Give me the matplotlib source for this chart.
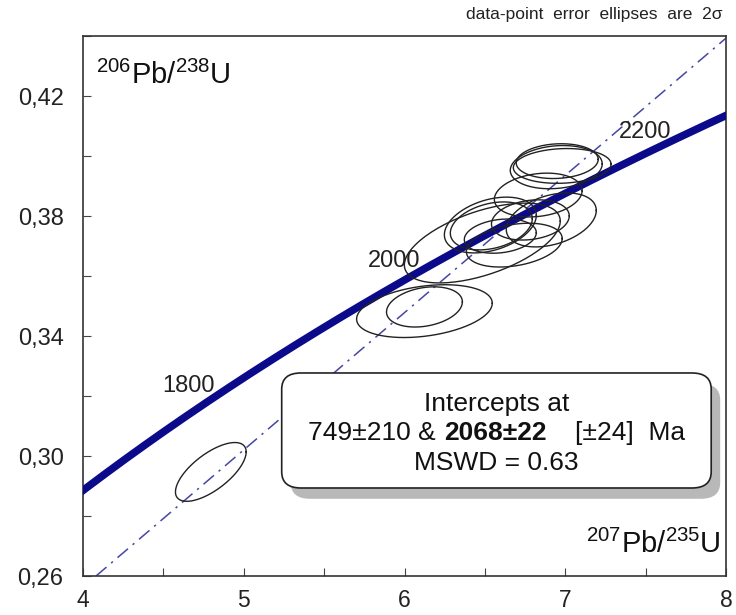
#!/usr/bin/env python3
"""
U-Pb concordia diagram (207Pb/235U vs 206Pb/238U) with 2-sigma error ellipses
"""

import numpy as np
import matplotlib.pyplot as plt
from matplotlib.patches import FancyBboxPatch
from matplotlib.ticker import MultipleLocator
from matplotlib.offsetbox import TextArea, HPacker, VPacker, AnchoredOffsetbox

plt.rcParams['font.family'] = ['Liberation Sans', 'DejaVu Sans']
plt.rcParams['mathtext.fontset'] = 'custom'
plt.rcParams['mathtext.rm'] = 'Liberation Sans'

# decay constants (1/yr)
LAMBDA_238 = 1.55125e-10
LAMBDA_235 = 9.8485e-10

# spot analyses: ratio, 2s error, rho
pb207_u235 = [4.795, 6.124, 6.124, 6.484, 6.534, 6.540, 6.596, 6.783, 6.913, 6.683, 6.832, 6.944, 6.981, 6.950]
pb207_u235_err = [0.220, 0.422, 0.236, 0.485, 0.286, 0.255, 0.224, 0.242, 0.280, 0.298, 0.273, 0.286, 0.304, 0.255]
pb206_u238 = [0.2947, 0.3483, 0.3497, 0.3710, 0.3770, 0.3767, 0.3733, 0.3787, 0.3787, 0.3703, 0.3870, 0.3963, 0.3967, 0.3983]
pb206_u238_err = [0.0098, 0.0088, 0.0067, 0.0133, 0.0093, 0.0080, 0.0057, 0.0067, 0.0090, 0.0073, 0.0073, 0.0072, 0.0058, 0.0058]
rho = [0.68, 0.30, 0.25, 0.55, 0.35, 0.30, 0.20, 0.20, 0.35, 0.30, 0.20, 0.15, 0.10, 0.10]

# concordia age labels (Ma) and fit result
concordia_ages = [1800, 2000, 2200]
lower_intercept = 749
upper_intercept = 2068

x_ticks = [4, 5, 6, 7, 8]
y_ticks = [0.26, 0.30, 0.34, 0.38, 0.42]


def concordia(age_ma):
    t = np.asarray(age_ma, dtype=float) * 1e6
    return np.exp(LAMBDA_235 * t) - 1, np.exp(LAMBDA_238 * t) - 1


fig = plt.figure(figsize=(7.36, 6.15), dpi=100)
ax = fig.add_axes([0.1128, 0.0634, 0.8736, 0.878])

# concordia curve
cx, cy = concordia(np.linspace(1500, 2400, 500))
ax.plot(cx, cy, color='#0a0a8a', lw=5.5, solid_capstyle='butt', zorder=3)

# discordia through the two intercepts
p_lo = concordia(lower_intercept)
p_hi = concordia(upper_intercept)
ax.axline((float(p_lo[0]), float(p_lo[1])), (float(p_hi[0]), float(p_hi[1])),
          color='#4646a4', lw=1.1, linestyle=(0, (9, 4, 1.5, 4)), zorder=2)

# error ellipses
theta = np.linspace(0, 2 * np.pi, 200)
for x0, sx, y0, sy, r in zip(pb207_u235, pb207_u235_err, pb206_u238, pb206_u238_err, rho):
    ex = x0 + sx * np.cos(theta)
    ey = y0 + sy * (r * np.cos(theta) + np.sqrt(1 - r ** 2) * np.sin(theta))
    ax.plot(ex, ey, color='#222222', lw=1.0, zorder=4)

# age labels on the concordia
for age in concordia_ages:
    px, py = concordia(age)
    ax.annotate(str(age), xy=(float(px), float(py)), xytext=(-8, 3), textcoords='offset points',
                ha='right', va='center', fontsize=17, color='#222222', zorder=5)

ax.set_xlim(4, 8)
ax.set_ylim(0.26, 0.44)
ax.set_xticks(x_ticks, labels=[str(v) for v in x_ticks])
ax.set_yticks(y_ticks, labels=[f"{v:.2f}".replace('.', ',') for v in y_ticks])
ax.xaxis.set_minor_locator(MultipleLocator(0.5))
ax.yaxis.set_minor_locator(MultipleLocator(0.02))
ax.tick_params(which='both', direction='in', length=6, width=0.8, color='#444444')
ax.tick_params(which='major', labelcolor='#222222')
ax.tick_params(axis='y', which='major', pad=14, labelsize=17)
ax.tick_params(axis='x', which='major', pad=9, labelsize=16.5)
for sp in ax.spines.values():
    sp.set_color('#333333')
    sp.set_linewidth(1.2)

# axis labels inside the frame
ax.text(0.02, 0.928, r'$\mathrm{^{206}Pb/^{238}U}$', transform=ax.transAxes,
        ha='left', va='center', fontsize=21, color='#111111')
ax.text(0.992, 0.043, r'$\mathrm{^{207}Pb/^{235}U}$', transform=ax.transAxes,
        ha='right', va='baseline', fontsize=21, color='#111111')

fig.text(0.981, 0.977, 'data-point  error  ellipses  are  2σ', ha='right', va='center',
         fontsize=12.5, color='#222222')

# result box with shadow
bx, by, bw, bh = 0.309, 0.163, 0.668, 0.213
shadow = FancyBboxPatch((bx + 0.014, by - 0.02), bw, bh, boxstyle='round,pad=0,rounding_size=0.03',
                        transform=ax.transAxes, fc='#b8b8b8', ec='none', zorder=6)
box = FancyBboxPatch((bx, by), bw, bh, boxstyle='round,pad=0,rounding_size=0.03',
                     transform=ax.transAxes, fc='white', ec='#222222', lw=1.2, zorder=7)
ax.add_patch(shadow)
ax.add_patch(box)

fs = 19
tprops = dict(fontsize=fs, color='#111111')
line1 = TextArea('Intercepts at', textprops=tprops)
part_a = TextArea(f'{lower_intercept}±210 &', textprops=tprops)
part_b = TextArea(f'{upper_intercept}±22', textprops=dict(fontsize=fs, color='#111111', fontweight='bold'))
part_c = TextArea('[±24]  Ma', textprops=tprops)
line2 = HPacker(children=[HPacker(children=[part_a, part_b], sep=6, pad=0), part_c], sep=20, pad=0)
line3 = TextArea('MSWD = 0.63', textprops=tprops)
block = VPacker(children=[line1, line2, line3], align='center', sep=4, pad=0)
anch = AnchoredOffsetbox(loc='center', child=block, frameon=False, pad=0, borderpad=0,
                         bbox_to_anchor=(bx + bw / 2, 0.264), bbox_transform=ax.transAxes)
anch.set_zorder(8)
ax.add_artist(anch)

fig.savefig('out.png', dpi=100)
